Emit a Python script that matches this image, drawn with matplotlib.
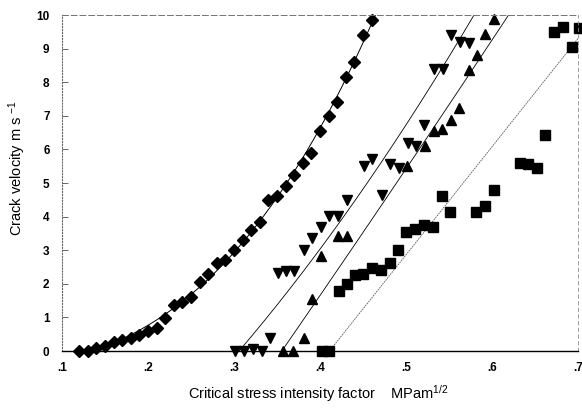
import matplotlib
matplotlib.use("Agg")
import matplotlib.pyplot as plt
import numpy as np

plt.rcParams["font.family"] = ["Liberation Sans", "DejaVu Sans"]
plt.rcParams["mathtext.fontset"] = "custom"
plt.rcParams["mathtext.rm"] = "Liberation Sans"
plt.rcParams["mathtext.it"] = "Liberation Sans"

# Diamonds
dia_x = [0.12, 0.13, 0.14, 0.15, 0.16, 0.17, 0.18, 0.19, 0.20, 0.21, 0.22, 0.23,
         0.24, 0.25, 0.26, 0.27, 0.28, 0.29, 0.30, 0.31, 0.32, 0.33, 0.34, 0.35,
         0.36, 0.37, 0.38, 0.39, 0.40, 0.41, 0.42, 0.43, 0.44, 0.45, 0.46]
dia_y = [0.0, 0.0, 0.1, 0.16, 0.27, 0.33, 0.38, 0.48, 0.59, 0.69, 0.98, 1.36,
         1.47, 1.62, 2.05, 2.29, 2.63, 2.7, 3.0, 3.3, 3.6, 3.85, 4.5, 4.6,
         4.92, 5.25, 5.6, 5.9, 6.55, 7.0, 7.4, 8.15, 8.6, 9.4, 9.85]

# Inverted triangles
inv_x = [0.301, 0.312, 0.322, 0.332, 0.342, 0.351, 0.361, 0.370, 0.381, 0.391,
         0.401, 0.411, 0.421, 0.431, 0.451, 0.461, 0.472, 0.481, 0.492, 0.502,
         0.512, 0.521, 0.532, 0.543, 0.552, 0.563, 0.573]
inv_y = [0.0, 0.0, 0.06, 0.0, 0.4, 2.33, 2.38, 2.38, 3.0, 3.35,
         3.7, 4.03, 4.03, 4.49, 5.5, 5.7, 4.65, 5.58, 5.44, 6.18,
         6.1, 6.74, 8.4, 8.38, 9.4, 9.2, 9.16]

# Triangles
tri_x = [0.357, 0.369, 0.381, 0.391, 0.401, 0.421, 0.431, 0.501, 0.522, 0.532,
         0.542, 0.552, 0.562, 0.573, 0.582, 0.592, 0.602]
tri_y = [0.0, 0.0, 0.38, 1.54, 2.84, 3.42, 3.42, 5.52, 6.1, 6.55,
         6.62, 6.87, 7.22, 8.36, 8.8, 9.43, 9.88]

# Squares
sq_x = [0.402, 0.411, 0.422, 0.431, 0.441, 0.450, 0.461, 0.471, 0.481, 0.491,
        0.500, 0.511, 0.521, 0.531, 0.542, 0.551, 0.581, 0.592, 0.602, 0.632,
        0.642, 0.652, 0.662, 0.672, 0.682, 0.693, 0.701]
sq_y = [0.0, 0.0, 1.78, 2.0, 2.26, 2.29, 2.48, 2.41, 2.61, 3.02,
        3.53, 3.62, 3.75, 3.68, 4.62, 4.15, 4.13, 4.32, 4.79, 5.6,
        5.58, 5.44, 6.43, 9.5, 9.65, 9.06, 9.6]

# Guide lines (x, y control points)
inv_line_x = [0.306, 0.39, 0.497, 0.579]
inv_line_y = [0.0, 2.7, 6.6, 10.0]
tri_line_x = [0.356, 0.435, 0.524, 0.619]
tri_line_y = [0.0, 3.0, 6.3, 10.0]
sq_line_x = [0.411, 0.551, 0.70]
sq_line_y = [0.0, 4.5, 9.3]

fig = plt.figure(figsize=(5.82, 4.08), dpi=100)
ax = fig.add_axes([62 / 582, 1 - 351 / 408, 516 / 582, 336 / 408])


def smooth(xs, ys, deg):
    coef = np.polyfit(xs, ys, deg)
    xx = np.linspace(min(xs), max(xs), 200)
    return xx, np.polyval(coef, xx)


# fitted curve through the diamonds
cx = np.linspace(0.115, 0.47, 300)
cy = np.clip(np.polyval(np.polyfit(dia_x, dia_y, 3), cx), 0, None)
ax.plot(cx, cy, color="black", lw=0.7)

lx, ly = smooth(inv_line_x, inv_line_y, 2)
ax.plot(lx, ly, color="black", lw=0.6)
lx, ly = smooth(tri_line_x, tri_line_y, 2)
ax.plot(lx, ly, color="black", lw=0.6)
ax.plot(sq_line_x, sq_line_y, color="0.35", lw=0.6, linestyle=(0, (2, 1)))

mk = dict(color="black", linestyle="none", clip_on=False)
ax.plot(dia_x, dia_y, marker="D", markersize=6, **mk)
ax.plot(inv_x, inv_y, marker="v", markersize=7.5, **mk)
ax.plot(tri_x, tri_y, marker="^", markersize=7.5, **mk)
ax.plot(sq_x, sq_y, marker="s", markersize=6.5, **mk)

ax.set_xlim(0.1, 0.7)
ax.set_ylim(0, 10)

ax.set_xticks([0.1, 0.2, 0.3, 0.4, 0.5, 0.6, 0.7])
ax.set_xticklabels([".1", ".2", ".3", ".4", ".5", ".6", ".7"])
ax.set_yticks(range(0, 11))
ax.tick_params(axis="x", length=0, pad=8, labelsize=8.5)
ax.tick_params(axis="y", direction="in", length=4, width=0.6, color="0.3",
               pad=9, labelsize=8.5)
for lab in ax.get_xticklabels() + ax.get_yticklabels():
    lab.set_fontweight("bold")

ax.spines["bottom"].set_color("black")
ax.spines["bottom"].set_linewidth(1.0)
ax.spines["left"].set_color("0.4")
ax.spines["left"].set_linestyle(":")
ax.spines["left"].set_linewidth(0.8)
ax.spines["top"].set_color("0.45")
ax.spines["top"].set_linestyle((0, (6, 3)))
ax.spines["top"].set_linewidth(0.7)
ax.spines["right"].set_color("0.55")
ax.spines["right"].set_linestyle((0, (4, 4)))
ax.spines["right"].set_linewidth(0.6)

fig.text(318 / 582, 1 - 394 / 408, r"Critical stress intensity factor    MPam$^{1/2}$",
         ha="center", va="center", fontsize=10.5)
fig.text(17 / 582, 1 - 168 / 408, r"Crack velocity m s $^{-1}$",
         ha="center", va="center", rotation=90, fontsize=10.5)

plt.savefig("out.png", dpi=100)
plt.close()
